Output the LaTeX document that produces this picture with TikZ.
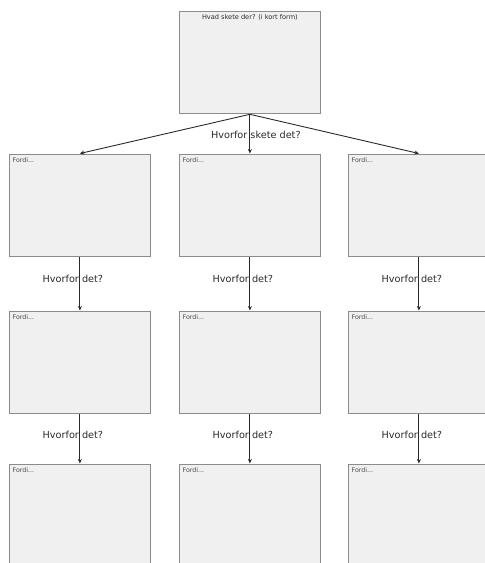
\documentclass[tikz,border=0pt]{standalone}
\usepackage{fontspec}
\setmainfont{DejaVu Sans}
\usetikzlibrary{arrows.meta,calc}
\definecolor{boxfill}{HTML}{F0F0F0}
\definecolor{boxline}{HTML}{8C8C8C}
\definecolor{ink}{HTML}{2A2A2A}
\begin{document}
\begin{tikzpicture}[x=1pt,y=-1pt,
  box/.style={draw=boxline, fill=boxfill, line width=1.8pt, minimum width=141pt, minimum height=102pt, inner sep=0pt, anchor=north west},
  fordi/.style={anchor=north west, font=\fontsize{6.3}{7}\selectfont, text=ink!85, inner sep=0pt},
  why/.style={font=\fontsize{9.7}{11}\selectfont, text=ink, inner sep=1pt},
  arr/.style={draw=ink, line width=0.9pt, -{Stealth[length=4.5pt,width=4pt]}}]
\useasboundingbox (0,0) rectangle (485,563);
\clip (0,0) rectangle (485,563);
% top box
\node[box] (q) at (178.5,10.5) {};
\node[anchor=north, inner sep=0pt, font=\fontsize{6.6}{7}\selectfont, text=ink] (qt) at ($(q.north)+(0,3.5)$) {Hvad skete der? (i kort form)};
% grid of boxes
\foreach \r/\y in {1/153.5,2/310.5,3/463.5}{
  \foreach \c/\x in {1/8.5,2/178.5,3/347.5}{
    \node[box] (b\r\c) at (\x,\y) {};
    \node[fordi] (f\r\c) at ($(b\r\c.north west)+(4,4)$) {Fordi...};
  }
}
% arrows from top box
\draw[arr] (q.south) -- (b11.north);
\draw[arr] (q.south) -- (b13.north);
\draw[arr] (q.south) -- (b12.north) node[why, midway, xshift=6pt, yshift=-1pt] (l0) {Hvorfor skete det?};
% vertical arrows
\foreach \c in {1,2,3}{
  \draw[arr] (b1\c.south) -- (b2\c.north) node[why, midway, xshift=-7pt, yshift=5pt] (la\c) {Hvorfor det?};
  \draw[arr] (b2\c.south) -- (b3\c.north) node[why, midway, xshift=-7pt, yshift=4pt] (lb\c) {Hvorfor det?};
}
\end{tikzpicture}
\end{document}
